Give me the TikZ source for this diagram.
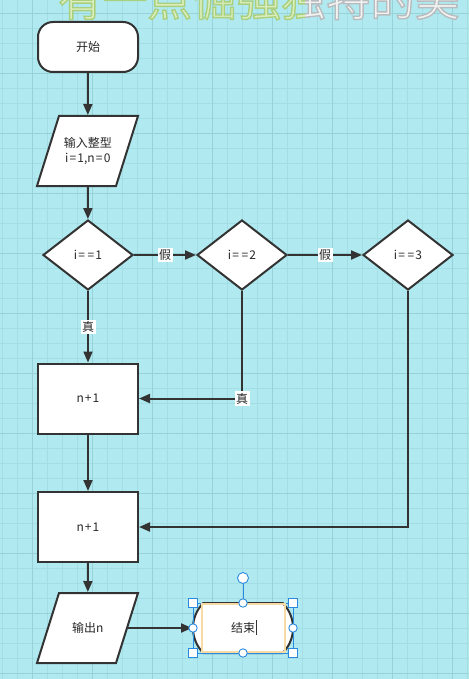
\documentclass[tikz,border=0pt]{standalone}
\usepackage{fontspec}
\setmainfont{Noto Sans CJK SC}
\usetikzlibrary{arrows.meta,shapes.geometric,shapes.misc}
\definecolor{bgc}{RGB}{176,234,240}
\definecolor{minorc}{RGB}{163,222,228}
\definecolor{majorc}{RGB}{150,210,216}
\definecolor{linec}{RGB}{51,51,51}
\definecolor{textc}{RGB}{40,40,40}
\definecolor{selc}{RGB}{42,138,224}
\definecolor{editc}{RGB}{248,218,164}
\definecolor{titlefill}{RGB}{218,238,190}
\definecolor{greyfill}{RGB}{242,242,242}
\newcommand\mytitle[2]{%
  \node[titlestyle,text=#1] at (58,16) {\special{pdf:literal direct 2 Tr 1.4 w #2 RG}有一点倔强独特的美\special{pdf:literal direct 0 Tr}};}
\newcommand\eq{\kern1.2pt=\kern1.2pt}
\newcommand\para[1]{\draw[shapeline,shift={#1}] (-50.5,35) -- (28.5,35) -- (50.5,-35) -- (-28.5,-35) -- cycle;}
\begin{document}
\begin{tikzpicture}[x=1pt,y=-1pt,
  titlestyle/.style={anchor=base west,inner sep=0pt,font=\fontsize{44.6}{50}\selectfont},
  shapeline/.style={draw=linec,line width=2pt,fill=white,line join=miter},
  base/.style={draw=linec,line width=2pt,fill=white,text=textc,inner sep=0pt,
    font=\fontsize{12}{15}\selectfont,align=center},
  terminal/.style={base,rectangle,rounded corners=15pt,minimum width=100pt,minimum height=50pt},
  endterm/.style={base,rounded rectangle,rounded rectangle arc length=90,minimum width=100pt,minimum height=50pt},
  io/.style={base,draw=none,fill=none,rectangle,minimum width=79pt,minimum height=70pt},
  decision/.style={base,diamond,minimum width=90pt,minimum height=70pt},
  process/.style={base,rectangle,minimum width=100pt,minimum height=70pt},
  conn/.style={draw=linec,line width=2pt,-{Triangle[length=11pt,width=9pt]}},
  lab/.style={fill=white,text=textc,inner sep=1.5pt,font=\fontsize{12}{14}\selectfont},
  handle/.style={draw=selc,fill=white,line width=0.9pt}]
\useasboundingbox (0,0) rectangle (469,679);
\fill[bgc] (0,0) rectangle (469,679);
\foreach \x in {2,17,...,467} \draw[minorc,line width=0.7pt] (\x,0) -- (\x,679);
\foreach \y in {13,28,...,673} \draw[minorc,line width=0.7pt] (0,\y) -- (469,\y);
\foreach \x in {32,92,...,452} \draw[majorc,line width=0.9pt] (\x,0) -- (\x,679);
\foreach \y in {13,73,...,673} \draw[majorc,line width=0.9pt] (0,\y) -- (469,\y);
% title
\begin{scope}
\clip (0,0) rectangle (305,60);
\mytitle{titlefill}{0.667 0.816 0.490}
\end{scope}
\begin{scope}
\clip (305,0) rectangle (469,60);
\mytitle{greyfill}{0.725 0.737 0.745}
\end{scope}
% parallelogram outlines
\para{(87.5,151)}
\para{(87.5,628)}
% nodes
\node[terminal] (start) at (88,47) {开始};
\node[io] (in1) at (87.75,151) {输入整型\\i\eq1,n\eq0};
\node[decision] (d1) at (88,255) {i\eq\eq1};
\node[decision] (d2) at (242,255) {i\eq\eq2};
\node[decision] (d3) at (408,255) {i\eq\eq3};
\node[process] (b1) at (88,398.5) {n\kern1pt+\kern1pt1};
\node[process] (b2) at (88,527) {n\kern1pt+\kern1pt1};
\node[io] (out) at (87.75,628) {输出n};
\node[endterm] (end) at (243,628) {结束};
% connectors
\draw[conn] (start) -- (in1);
\draw[conn] (in1) -- (d1);
\draw[conn] (d1) -- node[lab]{假} (d2);
\draw[conn] (d2) -- node[lab]{假} (d3);
\draw[conn] (d1) -- node[lab]{真} (b1);
\draw[conn] (d2.south) |- node[lab,pos=0.5]{真} (b1.east);
\draw[conn] (b1) -- (b2);
\draw[conn] (d3.south) |- (b2.east);
\draw[conn] (b2) -- (out);
\draw[conn] (out) -- (end);
% selection overlay on end node
\begin{scope}[shift={(end.center)}]
\draw[selc,line width=0.9pt] (-50,-25) rectangle (50,25);
\draw[editc,line width=1.6pt] (-41,-24) rectangle (42,24);
\draw[linec,line width=0.7pt] (13.5,-8) -- (13.5,7);
\draw[selc,line width=0.9pt] (0,-44.5) -- (0,-25);
\draw[handle] (0,-50) circle (5.5pt);
\foreach \px/\py in {0/-25,0/25,-50/0,50/0} \draw[handle] (\px,\py) circle (4.2pt);
\foreach \px/\py in {-50/-25,50/-25,-50/25,50/25} \draw[handle] (\px-4.5,\py-4.5) rectangle (\px+4.5,\py+4.5);
\end{scope}
\end{tikzpicture}
\end{document}
